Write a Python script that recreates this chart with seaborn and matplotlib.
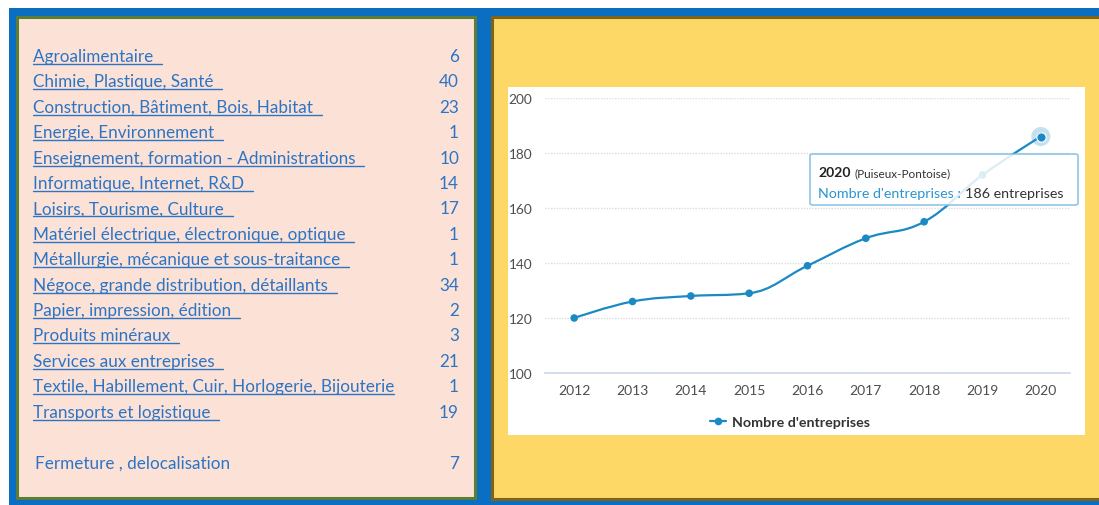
import numpy as np
import pandas as pd
import matplotlib
matplotlib.use('Agg')
import matplotlib.pyplot as plt
from matplotlib.patches import Rectangle, PathPatch, FancyBboxPatch
from matplotlib.path import Path
from matplotlib.lines import Line2D
import seaborn as sns

# ---- data
sectors = ["Agroalimentaire ", "Chimie, Plastique, Santé ",
           "Construction, Bâtiment, Bois, Habitat ", "Energie, Environnement ",
           "Enseignement, formation - Administrations ", "Informatique, Internet, R&D ",
           "Loisirs, Tourisme, Culture ", "Matériel électrique, électronique, optique ",
           "Métallurgie, mécanique et sous-traitance ", "Négoce, grande distribution, détaillants ",
           "Papier, impression, édition ", "Produits minéraux ", "Services aux entreprises ",
           "Textile, Habillement, Cuir, Horlogerie, Bijouterie", "Transports et logistique "]
counts = [6, 40, 23, 1, 10, 14, 17, 1, 1, 34, 2, 3, 21, 1, 19]
closure_label = "Fermeture , delocalisation"
closure_count = 7

years = [2012, 2013, 2014, 2015, 2016, 2017, 2018, 2019, 2020]
companies = [120, 126, 128, 129, 139, 149, 155, 172, 186]
series_name = "Nombre d'entreprises"
town = "Puiseux-Pontoise"
unit = "entreprises"

W, H = 1099, 506
link_blue = '#2b74c6'
line_blue = '#1b8ac4'
list_size = 12.3

sns.set_theme(style='white')
plt.rcParams['font.family'] = ['Lato', 'DejaVu Sans']

fig = plt.figure(figsize=(W / 100, H / 100), dpi=100)
fig.patch.set_facecolor('white')


def rect(x0, y0, x1, y1, **kw):
    # pixel box measured from the top-left corner -> figure fraction rectangle
    r = Rectangle((x0 / W, 1 - y1 / H), (x1 - x0) / W, (y1 - y0) / H,
                  transform=fig.transFigure, **kw)
    fig.add_artist(r)
    return r


def fx(x):
    return x / W


def fy(y):
    return 1 - y / H


# background panels
rect(9, 9, 1100, 507, facecolor='#0a6fc2', edgecolor='none', zorder=-10)
rect(17, 18, 475, 499, facecolor='#fce2d6', edgecolor='#5b7d36', lw=2.2, zorder=-9)
rect(492, 18, 1110, 500, facecolor='#fed866', edgecolor='#7d6419', lw=2.2, zorder=-9)
rect(508, 88, 1085, 436, facecolor='white', edgecolor='none', zorder=-8)

# ---- left list
link_texts = []
for i, (name, n) in enumerate(zip(sectors, counts)):
    yb = 62 + i * 25.4
    t = fig.text(fx(33), fy(yb), name, color=link_blue, fontsize=list_size, va='baseline')
    link_texts.append((t, yb))
    fig.text(fx(459), fy(yb), str(n), color=link_blue, fontsize=list_size, va='baseline', ha='right')
fig.text(fx(35), fy(469), closure_label, color=link_blue, fontsize=list_size, va='baseline')
fig.text(fx(459), fy(469), str(closure_count), color=link_blue, fontsize=list_size,
         va='baseline', ha='right')

# ---- line chart
ax = fig.add_axes([545 / W, 1 - 374 / H, 525 / W, 275 / H])
ax.patch.set_alpha(0)
df = pd.DataFrame({'pos': np.arange(len(years)), 'year': years, 'n': companies})


def spline_path(x, y, smoothing=1.5):
    # highcharts-like spline through the points (bezier control points from neighbours)
    n = len(x)
    conts = []
    for i in range(n):
        if i == 0 or i == n - 1:
            conts.append(((x[i], y[i]), (x[i], y[i])))
            continue
        d = smoothing + 1
        lx = (smoothing * x[i] + x[i - 1]) / d
        ly = (smoothing * y[i] + y[i - 1]) / d
        rx = (smoothing * x[i] + x[i + 1]) / d
        ry = (smoothing * y[i] + y[i + 1]) / d
        corr = (ry - ly) * (rx - x[i]) / (rx - lx) + y[i] - ry
        ly += corr
        ry += corr
        if ly > y[i - 1] and ly > y[i]:
            ly = max(y[i - 1], y[i]); ry = 2 * y[i] - ly
        elif ly < y[i - 1] and ly < y[i]:
            ly = min(y[i - 1], y[i]); ry = 2 * y[i] - ly
        if ry > y[i + 1] and ry > y[i]:
            ry = max(y[i + 1], y[i]); ly = 2 * y[i] - ry
        elif ry < y[i + 1] and ry < y[i]:
            ry = min(y[i + 1], y[i]); ly = 2 * y[i] - ry
        conts.append(((lx, ly), (rx, ry)))
    verts = [(x[0], y[0])]
    codes = [Path.MOVETO]
    for i in range(1, n):
        verts += [conts[i - 1][1], conts[i][0], (x[i], y[i])]
        codes += [Path.CURVE4] * 3
    return Path(verts, codes)


ax.add_patch(PathPatch(spline_path(df['pos'].values.astype(float), df['n'].values.astype(float)),
                       facecolor='none', edgecolor=line_blue, lw=1.6, zorder=3))
sns.scatterplot(data=df, x='pos', y='n', ax=ax, color=line_blue, s=30, edgecolor='none', zorder=4)
last = df.iloc[-1:]
sns.scatterplot(data=last, x='pos', y='n', ax=ax, color=line_blue, s=190, alpha=0.25,
                edgecolor='none', zorder=3.5)
sns.scatterplot(data=last, x='pos', y='n', ax=ax, color=line_blue, s=45, edgecolor='white',
                linewidth=0.8, zorder=4.5)

ax.set_xlim(-0.5, len(years) - 0.5)
ax.set_ylim(100, 200)
ax.set_yticks(range(100, 201, 20))
ax.set_xticks(df['pos'])
ax.set_xticklabels(df['year'])
ax.set_xticks(np.arange(-0.5, len(years)), minor=True)
ax.set_xlabel('')
ax.set_ylabel('')
ax.tick_params(axis='x', which='major', length=0, pad=8, labelsize=10, labelcolor='#4d4d4d')
ax.tick_params(axis='x', which='minor', length=6, width=1, color='#ccd6eb', direction='out')
ax.tick_params(axis='y', length=0, pad=9, labelsize=9.8, labelcolor='#4d4d4d')
ax.yaxis.grid(True, linestyle=(0, (1, 1)), color='#dddddd', lw=1)
ax.xaxis.grid(False)
for s in ['top', 'right', 'left']:
    ax.spines[s].set_visible(False)
ax.spines['bottom'].set_color('#ccd6eb')
ax.spines['bottom'].set_linewidth(1.2)
if ax.get_legend() is not None:
    ax.get_legend().remove()

handle = Line2D([], [], color=line_blue, lw=1.6, marker='o', markersize=4.5)
leg = fig.legend([handle], [series_name], loc='center', bbox_to_anchor=(fx(790), fy(423)),
                 frameon=False, handlelength=1.1, handletextpad=0.4,
                 prop={'weight': 'bold', 'size': 10.3})
leg.get_texts()[0].set_color('#333333')

# ---- tooltip
tip = FancyBboxPatch((fx(810), fy(206)), (1078 - 810) / W, (206 - 155) / H,
                     boxstyle='round,pad=0,rounding_size=0.003', transform=fig.transFigure,
                     facecolor='white', alpha=0.85, edgecolor='#7cbde2', lw=1.2, zorder=5)
fig.add_artist(tip)
tip_texts = [
    (818, 177, str(years[-1]), dict(fontsize=10, weight='bold', color='#222222')),
    (None, 177, '(' + town + ')', dict(fontsize=8.5, color='#333333')),
    (818, 198, series_name + ' :', dict(fontsize=10.3, color='#2b95cf')),
    (None, 198, '{} {}'.format(companies[-1], unit), dict(fontsize=10.3, color='#333333')),
]

fig.canvas.draw()
r = fig.canvas.get_renderer()
prev_x1 = None
for x, yb, s, kw in tip_texts:
    if x is None:
        x = prev_x1 + 4
    t = fig.text(fx(x), fy(yb), s, va='baseline', zorder=6, **kw)
    prev_x1 = t.get_window_extent(r).x1

# underlines under the links, trailing space included
space_w = (fig.text(0, 0, 'x x', fontsize=list_size).get_window_extent(r).width
           - fig.text(0, 0, 'xx', fontsize=list_size).get_window_extent(r).width)
for t in fig.texts[-2:]:
    t.set_visible(False)
for t, yb in link_texts:
    bb = t.get_window_extent(r)
    x1 = bb.x1 + space_w * (len(t.get_text()) - len(t.get_text().rstrip()))
    fig.add_artist(Line2D([fx(bb.x0), fx(x1)], [fy(yb + 3), fy(yb + 3)],
                          transform=fig.transFigure, color=link_blue, lw=1))

fig.savefig('out.png', dpi=100)
